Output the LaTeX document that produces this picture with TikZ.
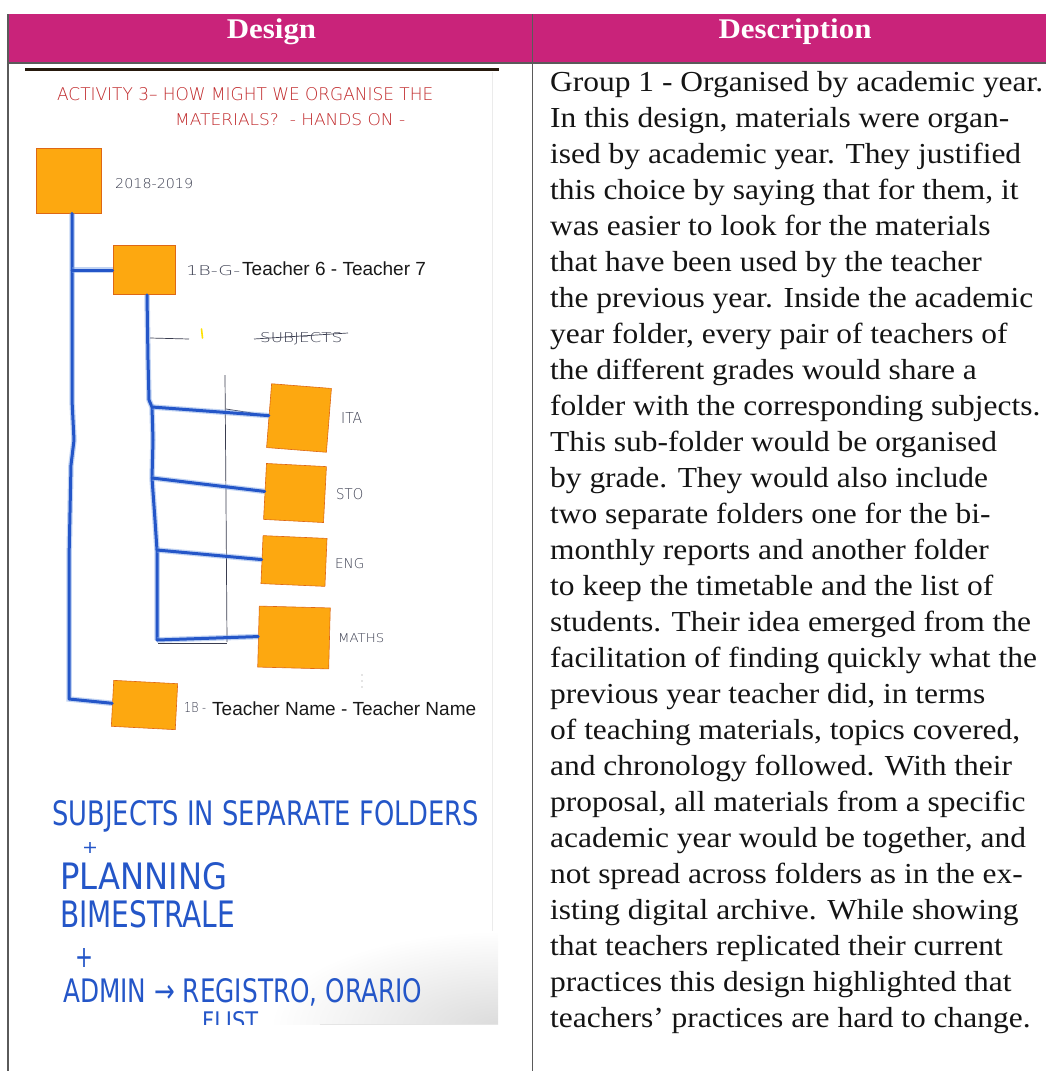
\documentclass[tikz,border=0pt]{standalone}
\usepackage{fontspec}
\usepackage{graphicx}
\usetikzlibrary{fadings}

% Fonts: serif body text, Arial-like typed labels, pen and marker lettering
\newfontfamily\bodyfont{Liberation Serif}[FakeStretch=1.085]
\newfontfamily\typedfont{Liberation Sans}
\newfontfamily\penfont{DejaVu Sans}[UprightFont={* ExtraLight}]
\newfontfamily\markerfont{DejaVu Sans}

\definecolor{headmag}{RGB}{201,35,122}
\definecolor{rulegray}{RGB}{90,90,90}
\definecolor{postit}{RGB}{253,168,16}
\definecolor{postitedge}{RGB}{222,104,20}
\definecolor{markerblue}{RGB}{36,86,200}
\definecolor{markerhalo}{RGB}{120,160,230}
\definecolor{redink}{RGB}{192,40,42}
\definecolor{penink}{RGB}{58,61,79}
\definecolor{bodyink}{RGB}{20,20,20}

% scale a piece of lettering to a given width and cap height (in pt)
\newcommand\fitbox[3]{\resizebox{#1pt}{#2pt}{#3}}

\tikzset{
  tablerule/.style={draw=rulegray, line width=1.1pt},
  headtxt/.style={anchor=base, inner sep=0, text=white, font=\bodyfont\bfseries\fontsize{28.5}{32}\selectfont},
  bodyline/.style={anchor=base west, inner sep=0, text=bodyink, font=\bodyfont\fontsize{29}{36}\selectfont},
  folder/.style={draw=postitedge, line width=0.6pt, fill=postit, inner sep=0},
  marker/.style={draw=markerblue, line width=3pt, line cap=round, line join=round,
    preaction={draw=markerhalo, line width=5.5pt, opacity=0.45}},
  pencil/.style={draw=penink, line width=0.7pt},
  hand/.style={anchor=north west, inner sep=0},
  typed/.style={anchor=base west, inner sep=0, text=black!90, font=\typedfont\fontsize{19}{22}\selectfont},
}

\begin{document}
\begin{tikzpicture}[x=1pt,y=-1pt]
\useasboundingbox (0,0) rectangle (1046,1071);

% ---------- table frame ----------
\fill[headmag] (8,14) rectangle (1046,63);
\draw[tablerule] (8,63) -- (1046,63);
\draw[tablerule] (8,14) -- (8,1071);
\draw[tablerule] (532.5,14) -- (532.5,1071);
\node[headtxt] (hdesign) at (271.5,38.5) {Design};
\node[headtxt] (hdesc) at (795,38.5) {Description};

% ---------- photographed sheet ----------
\fill[white] (25,69) rectangle (498,1024);
\draw[black!8, line width=0.6pt] (492,72) -- (492,1024);
\begin{scope}
  \clip (25,69) rectangle (498,1024);
  \shade[inner color=black!14, outer color=white] (500,1026) ellipse [x radius=230, y radius=95];
\end{scope}
\draw[black!10, line width=0.5pt] (320,1024) -- (498,1024);
\fill[black!80!brown] (25,67.5) rectangle (499,71);

% title in red pen
\node[hand, text=redink] (title1) at (57,87) {\fitbox{376}{13}{\penfont ACTIVITY 3– HOW MIGHT WE ORGANISE THE}};
\node[hand, text=redink] (title2) at (175,113) {\fitbox{230}{12}{\penfont MATERIALS?\ \ - HANDS ON -}};

% folders (sticky notes)
\node[folder, minimum width=65pt, minimum height=65pt] (y1) at (68.5,180.5) {};
\node[folder, minimum width=62pt, minimum height=49pt] (t67) at (144,270) {};
\node[folder, minimum width=60pt, minimum height=64pt, rotate=-4.5] (ita) at (299,418) {};
\node[folder, minimum width=60pt, minimum height=56pt, rotate=-3] (sto) at (295,493) {};
\node[folder, minimum width=64pt, minimum height=48pt, rotate=-2.5] (eng) at (294,561) {};
\node[folder, minimum width=71pt, minimum height=61pt, rotate=-1.5] (maths) at (294,637.5) {};
\node[folder, minimum width=64pt, minimum height=46pt, rotate=-3] (b4) at (144.5,705) {};

% labels beside the folders
\node[hand, text=penink] (lyear) at (115,178) {\fitbox{78}{10}{\penfont 2018-2019}};
\node[hand, text=penink] (l67a) at (186,265) {\fitbox{54}{10}{\penfont 1B-G-}};
\node[typed] (l67b) at (242,275) {Teacher 6 - Teacher 7};
\node[hand, text=penink] (lsubj) at (260,332) {\fitbox{82}{10}{\penfont SUBJECTS}};
\node[hand, text=penink] (lita) at (341,412) {\fitbox{21}{11}{\penfont ITA}};
\node[hand, text=penink] (lsto) at (336,488) {\fitbox{27}{11}{\penfont STO}};
\node[hand, text=penink] (leng) at (335,558) {\fitbox{29}{10}{\penfont ENG}};
\node[hand, text=penink] (lmaths) at (338,633) {\fitbox{46}{9}{\penfont MATHS}};
\node[hand, text=penink] (lb4a) at (184,702) {\fitbox{22}{10}{\penfont 1B -}};
\node[typed] (lb4b) at (212,715) {Teacher Name - Teacher Name};

% crossed-out word and small pencil marks
\draw[pencil] (254,339) -- (348,333);
\draw[pencil] (150,338) -- (189,339);
\draw[yellow!85!orange, line width=1.6pt, line cap=round] (201.5,329) -- (202.5,338);
\draw[pencil] (225,375) -- (226,500) -- (227,642);
\draw[pencil] (226,409) -- (ita.west);
\draw[pencil] (227,486) -- (sto.west);
\draw[pencil] (158,643) -- (227,643);
\foreach \d in {675,681,687} \fill[black!45] (362,\d) circle (0.6);

% blue marker tree
\coordinate (j1) at (72,270);
\coordinate (jend) at (69,699);
\draw[marker] ([xshift=3.5pt]y1.south) -- (72,260) -- (j1) -- (72,400) -- (74,440) -- (71,465)
  -- (69,560) -- (jend) -- (b4.west);
\draw[marker] (j1) -- (t67.west);

\coordinate (k1) at (152,407);
\coordinate (k2) at (152,478);
\coordinate (k3) at (157,550);
\coordinate (k4) at (157,640);
\draw[marker] ([xshift=3pt]t67.south) -- (148,360) -- (149,400) -- (k1) -- (153,440)
  -- (k2) -- (155,520) -- (k3) -- (k4);
\draw[marker] (k1) -- (ita.west);
\draw[marker] (k2) -- (sto.west);
\draw[marker] (k3) -- (eng.west);
\draw[marker] (k4) -- (maths.west);

% notes in blue marker
\node[hand, text=markerblue] (n1) at (52,800) {\fitbox{427}{25}{\markerfont SUBJECTS IN SEPARATE FOLDERS}};
\node[hand, text=markerblue] (n2) at (82,842) {\fitbox{16}{11}{\markerfont +}};
\node[hand, text=markerblue] (n3) at (60,862) {\fitbox{167}{27}{\markerfont PLANNING}};
\node[hand, text=markerblue] (n4) at (60,900) {\fitbox{175}{27}{\markerfont BIMESTRALE}};
\node[hand, text=markerblue] (n5) at (75,948) {\fitbox{18}{19}{\markerfont +}};
\node[hand, text=markerblue] (n6) at (63,978) {\fitbox{359}{24}{\markerfont ADMIN → REGISTRO, ORARIO}};
\begin{scope}
  \clip (25,69) rectangle (498,1024);
  \node[hand, text=markerblue] (n7) at (202,1011) {\fitbox{56}{18}{\markerfont FLIST}};
\end{scope}

% ---------- description column ----------
\foreach \t [count=\i] in {
  {Group 1 - Organised by academic year.},
  {In this design, materials were organ-},
  {ised by academic year. They justified},
  {this choice by saying that for them, it},
  {was easier to look for the materials},
  {that have been used by the teacher},
  {the previous year. Inside the academic},
  {year folder, every pair of teachers of},
  {the different grades would share a},
  {folder with the corresponding subjects.},
  {This sub-folder would be organised},
  {by grade. They would also include},
  {two separate folders one for the bi-},
  {monthly reports and another folder},
  {to keep the timetable and the list of},
  {students. Their idea emerged from the},
  {facilitation of finding quickly what the},
  {previous year teacher did, in terms},
  {of teaching materials, topics covered,},
  {and chronology followed. With their},
  {proposal, all materials from a specific},
  {academic year would be together, and},
  {not spread across folders as in the ex-},
  {isting digital archive. While showing},
  {that teachers replicated their current},
  {practices this design highlighted that},
  {teachers’ practices are hard to change.}}
  \node[bodyline] (desc\i) at (550,{91+36*(\i-1)}) {\t};

\end{tikzpicture}
\end{document}
